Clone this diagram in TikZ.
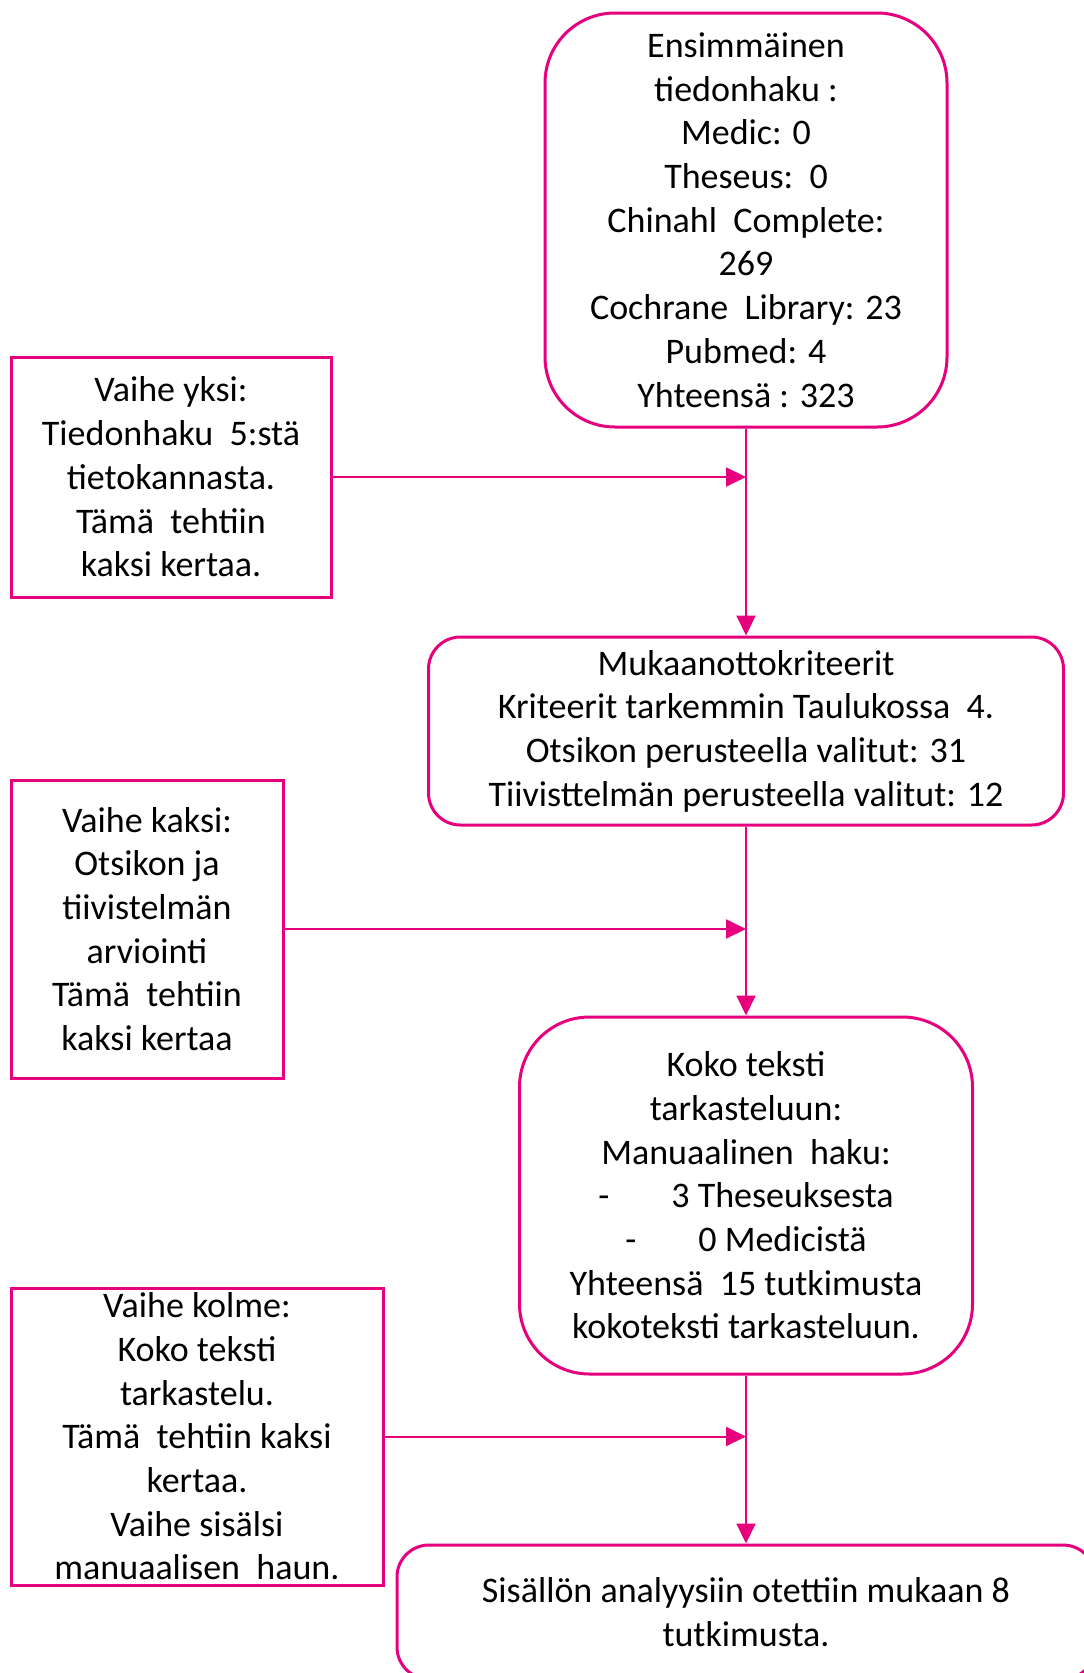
\documentclass[tikz,border=0pt]{standalone}
\usepackage{fontspec}
\setmainfont{Carlito}
\usetikzlibrary{arrows.meta}
\definecolor{pinkline}{HTML}{E6007E}
\begin{document}
\begin{tikzpicture}[x=1pt,y=-1pt,
  box/.style={draw=pinkline, line width=3pt, fill=white, align=center, inner sep=0pt,
    font=\fontsize{36pt}{43.7pt}\selectfont, text=black},
  rbox/.style={box, rounded corners=#1},
  conn/.style={draw=pinkline, line width=2pt, -{Triangle[length=20pt,width=19pt]}}]
\useasboundingbox (0,0) rectangle (1084,1673);
\clip (0,0) rectangle (1084,1673);
\fill[white] (0,0) rectangle (1084,1673);

\node[rbox=70pt, minimum width=402pt, minimum height=414pt] (haku) at (746,220)
  {Ensimmäinen\\tiedonhaku :\\Medic: 0\\Theseus:\ \ 0\\Chinahl\ \ Complete:\\269\\Cochrane\ \ Library: 23\\Pubmed: 4\\Yhteensä : 323};

\node[box, minimum width=320pt, minimum height=240pt] (yksi) at (171,477)
  {Vaihe yksi:\\Tiedonhaku\ \ 5:stä\\tietokannasta.\\Tämä\ \ tehtiin\\kaksi kertaa.};

\node[rbox=32pt, minimum width=635pt, minimum height=188pt] (kriteerit) at (746,731)
  {Mukaanottokriteerit\\Kriteerit tarkemmin Taulukossa\ \ 4.\\Otsikon perusteella valitut: 31\\Tiivisttelmän perusteella valitut: 12};

\node[box, minimum width=272pt, minimum height=298pt] (kaksi) at (147,929)
  {Vaihe kaksi:\\Otsikon ja\\tiivistelmän\\arviointi\\Tämä\ \ tehtiin\\kaksi kertaa};

\node[rbox=70pt, minimum width=453pt, minimum height=357pt] (koko) at (746,1195.5)
  {Koko teksti\\tarkasteluun:\\Manuaalinen\ \ haku:\\-\hspace{62pt}3 Theseuksesta\\-\hspace{62pt}0 Medicistä\\Yhteensä\ \ 15 tutkimusta\\kokoteksti tarkasteluun.};

\node[box, minimum width=372pt, minimum height=297pt] (kolme) at (197,1436.5)
  {Vaihe kolme:\\Koko teksti\\tarkastelu.\\Tämä\ \ tehtiin kaksi\\kertaa.\\Vaihe sisälsi\\manuaalisen\ \ haun.};

\node[rbox=32pt, minimum width=698pt, minimum height=134pt] (sisalto) at (746,1612)
  {Sisällön analyysiin otettiin mukaan 8\\tutkimusta.};

\draw[conn] (haku.south) -- (kriteerit.north);
\draw[conn] (kriteerit.south) -- (koko.north);
\draw[conn] (koko.south) -- (sisalto.north);
\draw[conn] (yksi.east) -- (yksi.east -| haku.south);
\draw[conn] (kaksi.east) -- (kaksi.east -| kriteerit.south);
\draw[conn] (kolme.east) -- (kolme.east -| koko.south);
\end{tikzpicture}
\end{document}
